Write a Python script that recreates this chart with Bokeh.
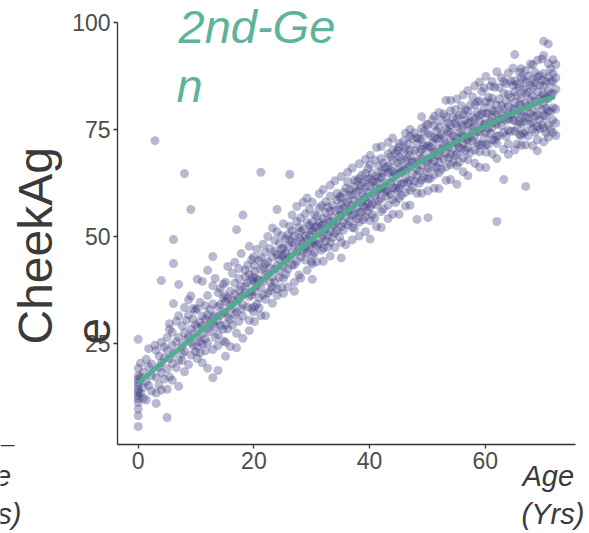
import math
from bokeh.plotting import figure
from bokeh.models import Range1d, Label, FixedTicker, ColumnDataSource, BoxAnnotation
from bokeh.embed import file_html
from bokeh.resources import INLINE

# ---------------- data ----------------
# each block: ages (years) and the CheekAge values observed at each of those ages
age_00 = [0, 0.4, 0.9, 1.4, 1.8, 2.3, 2.9, 3.1, 3.6, 4.0, 4.5]
cheek_00 = [[5.6, 8.1, 9.7, 11.2, 12.1, 12.8, 13.6, 14.2, 15.1, 15.8, 16.6, 17.4, 19.2, 26],
            [13.3, 17.2, 20.4], [12.2, 14.7, 18.3], [16.1, 21.3, 11.8], [15.2, 19.6, 23.8],
            [13.9, 20.2, 17.5], [72.4, 24.6], [11, 13.4, 17.1, 23.4], [15.3, 22.1, 19.4],
            [14.1, 18.2, 20.5, 25.3, 39.7], [16.7, 24.2, 21.6]]

age_05 = [5.0, 5.4, 5.9, 6.1, 6.6, 7.0, 7.6, 8.0, 8.3, 8.7, 9.1, 9.5, 9.9]
cheek_05 = [[7.7, 14.3, 19.1, 23.4, 26.4], [17.2, 21.5, 28.3, 29.6], [16.4, 20.3, 24.6, 27.6],
            [34.3, 43.7, 49.3, 22.7], [19.3, 25.4, 30.2], [15, 21.1, 26.4, 31.5, 38.8],
            [21, 22.6, 24.4, 29.1], [18.4, 23.2, 27.5, 33.4, 64.7], [30.4, 25.9],
            [20.1, 26.6, 35.2, 31.7], [22.3, 25.2, 28.4, 56.3, 36.1], [24.5, 30.7, 27.3, 33.2],
            [23.1, 29.4, 32.8]]

age_10 = [10.2, 10.7, 11.1, 11.6, 12.0, 12.4, 12.9, 13.3, 13.8, 14.2, 14.7]
cheek_10 = [[21.5, 26.3, 28.8, 33.1, 24.2, 40], [25.4, 29.9, 34.6, 22.8],
            [20.5, 27.2, 31.4, 39.5, 24.9, 29.1], [26.1, 30.7, 33.8, 23.3],
            [19.2, 28.4, 25.1, 36.2, 31.7, 42.1], [27.8, 32.9, 30.1],
            [17, 23.6, 29.7, 34.2, 38.5, 45.3, 31.2], [26.4, 31.5, 40.2, 28.9],
            [18.7, 24.5, 33.6, 30.3, 36.9, 27.1], [29.2, 34.1, 37.8, 31.6],
            [28.3, 32.4, 35.7, 38.9, 25.6]]

age_15 = [15.1, 15.5, 15.9, 16.3, 16.7, 17.0, 17.4, 17.8, 18.1, 18.5, 18.9, 19.2, 19.6, 19.9]
cheek_15 = [[22, 25.3, 29.4, 32.2, 34.7, 36.1, 39.3], [28.4, 31.2, 35.5, 43],
            [24.3, 30.6, 33.9, 37.2], [35.1, 41.4, 29.3, 33.2], [36.6, 39.1, 44, 31.8],
            [24, 27.4, 32.3, 34.8, 51.6], [37.4, 40.2, 42.5, 30.2, 35.6], [38.3, 46, 33.1],
            [26.2, 31.4, 34.1, 36.3, 55], [38.4, 42.2, 36.8, 40.6], [33.5, 43.3, 39.2],
            [28, 30.4, 35.9, 41.2, 47.7], [33.2, 37.1, 39.8, 44.6, 36.3], [32.4, 40.5, 45.2]]

age_20 = [20.1, 20.5, 20.9, 21.2, 21.6, 22.0, 22.4, 22.8, 23.2, 23.6, 24.0, 24.4, 24.8]
cheek_20 = [[30.1, 33.6, 37.2, 39.4, 41.8, 43.3], [34.2, 38.5, 40.1, 47], [33.3, 35.7, 44.4, 39.9],
            [31.5, 38.1, 42.3, 45.1, 65], [36.4, 39.6, 42.8, 48.2], [31.5, 35.3, 40.9, 43.6, 46.3],
            [36.8, 41.3, 44.1, 50], [37.3, 39.2, 47.2, 42.6], [34.4, 38.2, 40.6, 45.2, 52],
            [42.4, 46.5, 49.1, 39.3], [36.2, 37.7, 43.2, 45.8, 51.1, 56.3],
            [40.4, 48.3, 42.1, 44.6], [38.1, 45.4, 50.2, 47.1]]

age_25 = [25.1, 25.5, 25.9, 26.2, 26.6, 27.0, 27.4, 27.8, 28.1, 28.5, 28.9, 29.2, 29.6, 29.9]
cheek_25 = [[36.7, 40.2, 43.1, 45.6, 47.3, 53], [41.2, 44.4, 49.5, 46.1], [38.2, 42.4, 47.7, 50.4],
            [45.1, 49.2, 52.4, 64.5], [43.3, 46.2, 48.6, 51.3, 55], [37.2, 39.3, 43.4, 48.1, 50.2],
            [46.3, 53.5, 57, 44.2], [47.4, 49.7, 52.1, 41], [40.3, 45.2, 49.1, 51.2, 54.3],
            [46.4, 48.3, 51.6, 58], [44.5, 47.2, 55.3, 50.1], [42.1, 46.3, 49.4, 53.2, 59],
            [47.5, 50.3, 52.6, 56.4], [44.1, 51.4, 48.2]]

age_30 = [30.1, 30.5, 30.9, 31.3, 31.7, 32.0, 32.4, 32.8, 33.2, 33.6, 34.0, 34.4, 34.8]
cheek_30 = [[40, 43.6, 45.7, 49.1, 51.3, 53.4, 58], [46.2, 48.4, 52.1, 55.1], [44.1, 47.9, 52.4, 54.7],
            [48.3, 51.1, 53.3, 56.6, 60], [46.8, 49.6, 52.5, 57.2], [44.2, 47.3, 50.1, 52.8, 54.2, 61],
            [48.9, 51.8, 55.6, 58.1], [47.5, 50.3, 53.9, 56.9], [45.4, 48.6, 51.2, 53.5, 55.9, 59.4, 62],
            [49.7, 52.6, 54.4, 57.3], [47.4, 50.8, 52.9, 56.1, 63], [51.4, 53.6, 58.5, 60.1],
            [49.9, 54.8, 56.3, 59.2]]

age_35 = [35.1, 35.5, 35.9, 36.2, 36.6, 37.0, 37.4, 37.8, 38.2, 38.6, 38.9, 39.3, 39.7]
cheek_35 = [[45, 48.6, 52.3, 55.1, 57.4, 59.2, 64], [51.5, 53.2, 56.6, 60.2], [48.1, 54.7, 57.9, 61.3],
            [52.8, 55.9, 58.2, 62.8, 65], [53.6, 56.3, 59.7, 60.9], [49.2, 52.1, 54.9, 57.3, 59.8, 66],
            [51.9, 55.2, 58.4, 61.6, 63.2], [54.1, 56.8, 60.5, 62.9],
            [50.1, 53.4, 55.6, 58.7, 60.9, 63.5, 67], [55.7, 58.1, 61.8, 64.3], [53.9, 57.2, 59.6, 62.7],
            [51.1, 54.6, 56.9, 59.1, 61.5, 64.8, 68], [55.8, 57.7, 60.3, 63.4, 65.9]]

age_40 = [40.1, 40.5, 40.9, 41.2, 41.6, 42.0, 42.4, 42.8, 43.2, 43.6, 44.0, 44.5, 44.8]
cheek_40 = [[49.4, 53.7, 56.9, 58.8, 61.7, 63.5, 66.8, 69], [55.1, 57.6, 62.9, 64.8],
            [54.3, 59.5, 61.8, 67.9], [52.3, 57.4, 60.2, 62.7, 64.1, 70.8], [58.3, 60.9, 63.6, 66.4],
            [52.1, 55.8, 58.9, 61.1, 63.7, 65.3, 68.2, 71], [56.4, 61.5, 64.8, 67.2],
            [59.4, 62.7, 66.1, 60.5], [54.2, 57.3, 60.6, 64.9, 66.5, 69.3, 72], [59.8, 62.4, 65.7, 68.6],
            [55.2, 58.6, 61.4, 63.9, 65.1, 67.7, 70.3, 73], [57.9, 61.3, 64.6, 69.4],
            [60.7, 62.8, 67.2, 70.1]]

age_45 = [45.1, 45.5, 45.9, 46.2, 46.6, 47.0, 47.4, 47.8, 48.2, 48.6, 49.0, 49.4, 49.8]
cheek_45 = [[55.2, 58.9, 61.3, 64.8, 66.1, 68.6, 70.9, 71.7], [59.6, 62.2, 65.1, 67.9],
            [62.4, 65.7, 69.8, 72.3], [57.1, 60.3, 63.6, 65.4, 67.7, 70.5, 74.1], [62.7, 66.2, 68.4, 71.6],
            [57.3, 60.8, 63.1, 66.5, 68.9, 70.2, 73.4, 75], [61.5, 64.6, 67.3, 72.8],
            [62.9, 67.4, 70.1, 74.2], [54, 60.1, 64.2, 65.8, 67.9, 71.6, 73.1], [62.4, 65.3, 69.7, 72.9],
            [60.1, 63.2, 66.7, 68.1, 70.4, 72.7, 75.3, 78], [63.8, 68.9, 71.2, 74.6],
            [65.1, 67.4, 70.8, 76.2]]

age_50 = [50.1, 50.5, 50.9, 51.2, 51.6, 52.0, 52.4, 52.8, 53.2, 53.6, 54.0, 54.4, 54.8]
cheek_50 = [[54.4, 60.7, 63.4, 65.9, 67.8, 71.3, 74.1, 76.1], [63.6, 68.2, 70.9, 73.5],
            [66.3, 69.7, 71.8, 77.3], [61.3, 64.4, 67.6, 69.8, 73.1, 75.9, 78.1], [66.2, 69.1, 72.7, 74.6],
            [61.2, 64.9, 67.3, 68.8, 70.6, 72.9, 75.5, 79], [65.7, 70.2, 73.8, 77.1],
            [68.1, 71.4, 73.3, 78.6], [63.1, 66.2, 69.5, 71.7, 75.2, 77.9, 81.8], [68.4, 70.9, 74.6, 76.5],
            [63.3, 66.8, 69.2, 72.5, 74.3, 76.1, 79.4, 81.8], [67.4, 70.6, 73.5, 77.8],
            [68.9, 72.1, 76.4, 79.7]]

age_55 = [55.1, 55.5, 55.9, 56.2, 56.6, 57.0, 57.4, 57.8, 58.2, 58.6, 59.0, 59.4, 59.8]
cheek_55 = [[62.2, 66.5, 69.3, 71.8, 72.9, 75.7, 77.6, 82.1], [67.4, 70.8, 74.2, 78.3],
            [70.5, 73.9, 76.1, 80.5], [65.1, 68.4, 71.6, 73.3, 75.8, 78.5, 83.1], [70.1, 72.7, 77.3, 79.6],
            [64.2, 67.9, 70.8, 72.6, 74.7, 76.4, 79.3, 84.1], [69.6, 73.2, 76.8, 80.7],
            [72.3, 75.4, 77.9, 82.6], [67.1, 70.2, 73.7, 75.6, 77.4, 80.8, 85.2], [71.9, 74.4, 79.1, 81.5],
            [66.2, 69.8, 71.4, 74.6, 76.9, 78.3, 81.7, 86.1], [71.5, 75.3, 78.6, 83.9],
            [73.1, 76.2, 80.1, 84.7]]

age_60 = [60.1, 60.5, 60.9, 61.2, 61.6, 62.0, 62.4, 62.8, 63.2, 63.6, 64.0, 64.4, 64.8]
cheek_60 = [[66.1, 69.7, 71.5, 74.3, 76.6, 78.8, 81.4, 87.4], [71.4, 75.2, 78.7, 82.6],
            [74.1, 76.9, 81.3, 85.1], [69.3, 72.6, 75.4, 77.8, 79.5, 82.3, 86.2], [72.5, 76.6, 79.3, 84.9],
            [53.5, 68.2, 71.7, 73.4, 76.2, 78.5, 80.7, 88.5], [73.6, 77.3, 82.1, 84.8],
            [75.9, 78.8, 80.6, 87.1], [63.3, 70.4, 74.3, 77.6, 79.8, 83.5, 86.2], [73.4, 77.1, 81.6, 85.7],
            [69.2, 71.6, 74.8, 77.5, 78.6, 80.4, 83.2, 88.2], [74.6, 78.4, 82.5, 86.3],
            [77.2, 79.9, 85.3, 89.3]]

age_65 = [65.1, 65.5, 65.9, 66.2, 66.6, 67.0, 67.4, 67.8, 68.2, 68.6, 69.0, 69.4, 69.8]
cheek_65 = [[70.2, 74.6, 77.1, 79.5, 81.3, 83.8, 86.4, 92.5], [71.6, 75.4, 78.7, 82.9, 85.6],
            [73.8, 76.9, 80.9, 84.8, 88.4], [71.3, 73.5, 76.4, 78.6, 80.7, 82.5, 87.2, 89.2],
            [74.1, 76.8, 79.2, 84.3, 86.7], [61.7, 71.4, 74.6, 77.9, 81.2, 83.4, 85.9, 88.8],
            [73.5, 77.6, 80.4, 83.7, 87.5], [76.3, 78.7, 81.9, 85.4, 90.3],
            [71.2, 75.1, 76.6, 79.3, 82.8, 84.9, 86.7, 90.1], [74.4, 78.1, 81.6, 85.9, 88.4],
            [70, 72.6, 75.7, 78.4, 80.6, 83.9, 87.2, 91.2], [75.2, 77.4, 82.2, 85.3, 87.6],
            [76.1, 79.6, 82.8, 86.5, 91.5]]

age_70 = [70.1, 70.5, 70.9, 71.3, 71.7, 72.2]
cheek_70 = [[72.1, 75.3, 78.2, 81.1, 83.3, 85.2, 88.1, 92.3, 95.6], [74.2, 78.1, 82.3, 86.2, 80],
            [73.2, 76.1, 79.3, 82.2, 84.1, 87.3, 90.4, 95], [75.1, 79.2, 83.3, 86.1, 89.2],
            [74.3, 77.2, 80.1, 83.4, 86.2, 88.1, 91.3], [73.6, 76.5, 79.8, 84.4, 87.1, 90.2]]

# smoothed trend line
trend_age = [0, 5, 10, 15, 20, 25, 30, 35, 40, 45, 50, 55, 60, 65, 70, 72]
trend_cheek = [15.7, 21.5, 27, 32.5, 38, 43.7, 49.3, 54.8, 59.8, 64.3, 68.4, 72.2, 75.8, 79, 81.8, 82.7]

x_ticks = [0, 20, 40, 60]
y_ticks = [25, 50, 75, 100]

# ---------------- assemble ----------------
groups = [(age_00, cheek_00), (age_05, cheek_05), (age_10, cheek_10), (age_15, cheek_15),
          (age_20, cheek_20), (age_25, cheek_25), (age_30, cheek_30), (age_35, cheek_35),
          (age_40, cheek_40), (age_45, cheek_45), (age_50, cheek_50), (age_55, cheek_55),
          (age_60, cheek_60), (age_65, cheek_65), (age_70, cheek_70)]
xs, ys = [], []
for ages, cheeks in groups:
    for a, vals in zip(ages, cheeks):
        for v in vals:
            xs.append(a)
            ys.append(v)

pts = ColumnDataSource(dict(age=xs, cheek=ys))
trend = ColumnDataSource(dict(age=trend_age, cheek=trend_cheek))

GREEN_LINE = "#4fab8d"
GREEN_TEXT = "#5fb39c"
PURPLE = "#38367d"
DARK = "#3a3a3a"
TICK = "#4d4d4d"
FONT = "Liberation Sans"

W, H = 589, 533
# panel box on the canvas (pixels) and the data values at its edges
PL, PR, PT, PB = 117, 575, 22, 444
X0, X1 = -3.58, 75.6
Y0, Y1 = 1.4, 100.0
kx = (PR - PL) / (X1 - X0)
ky = (PB - PT) / (Y1 - Y0)

# the frame covers the whole canvas so that texts outside the panel are not clipped
p = figure(width=W, height=H, output_backend="svg", toolbar_location=None,
           x_range=Range1d(X0 - PL / kx, X1 + (W - PR) / kx),
           y_range=Range1d(Y0 - (H - PB) / ky, Y1 + PT / ky),
           min_border=0, min_border_left=0, min_border_right=0,
           min_border_top=0, min_border_bottom=0)
p.title.visible = False
p.outline_line_color = None
p.xgrid.visible = False
p.ygrid.visible = False
p.background_fill_color = "white"
p.border_fill_color = "white"

p.scatter("age", "cheek", source=pts, size=9, fill_color=PURPLE, fill_alpha=0.35,
          line_color=None)
p.line("age", "cheek", source=trend, line_color=GREEN_LINE, line_width=5, line_alpha=0.95)

xa, ya = p.xaxis[0], p.yaxis[0]
xa.fixed_location = Y0
ya.fixed_location = X0
xa.bounds = (X0, X1)
ya.bounds = (Y0, Y1)
for ax, ticks in ((xa, x_ticks), (ya, y_ticks)):
    ax.ticker = FixedTicker(ticks=ticks)
    ax.minor_tick_line_color = None
    ax.major_tick_in = 0
    ax.major_tick_out = 4
    ax.major_tick_line_color = "#333333"
    ax.axis_line_color = "#333333"
    ax.axis_line_width = 1.3
    ax.major_tick_line_width = 1.3
    ax.major_label_text_font = FONT
    ax.major_label_text_font_size = "23px"
    ax.major_label_text_color = TICK
    ax.axis_label = None
xa.major_label_standoff = 3
ya.major_label_standoff = 3

BASE_SHIFT = 0.36  # offset (in em) between the anchor and the drawn baseline


def add_label(text, cx, base, size, color, align="left", style="normal", rotated=False):
    """cx, base: canvas pixels (top-left origin); base is the text baseline."""
    if rotated:
        x, y = base - BASE_SHIFT * size, H - cx
        angle = math.pi / 2
    else:
        x, y = cx, H - (base - BASE_SHIFT * size)
        angle = 0.0
    p.add_layout(Label(x=x, y=y, x_units="screen", y_units="screen", text=text,
                       text_font=FONT, text_font_size=f"{size}px", text_color=color,
                       text_font_style=style, text_align=align,
                       text_baseline="alphabetic", angle=angle))


# title (wrapped)
add_label("2nd-Ge", 178, 43, 47, GREEN_TEXT, style="italic")
add_label("n", 176, 102, 47, GREEN_TEXT, style="italic")
# y axis title (wrapped, rotated): cx is the start along the axis, base the baseline x
add_label("CheekAg", 344, 52, 48, DARK, rotated=True)
add_label("e", 344, 110, 48, DARK, rotated=True)
# x axis title (wrapped)
add_label("Age", 522, 486, 29, DARK, style="italic")
add_label("(Yrs)", 521, 524, 29, DARK, style="italic")
# neighbouring panel's x axis and its title, cut by the edge
add_label("Age", -41, 486, 29, DARK, style="italic")
add_label("(Yrs)", -42, 524, 29, DARK, style="italic")
p.add_layout(BoxAnnotation(left=0, right=14, bottom=H - 445.7, top=H - 444.4,
                           left_units="screen", right_units="screen",
                           bottom_units="screen", top_units="screen",
                           fill_color="#333333", fill_alpha=1.0, line_color=None))

open("out.html", "w").write(file_html(p, INLINE))
